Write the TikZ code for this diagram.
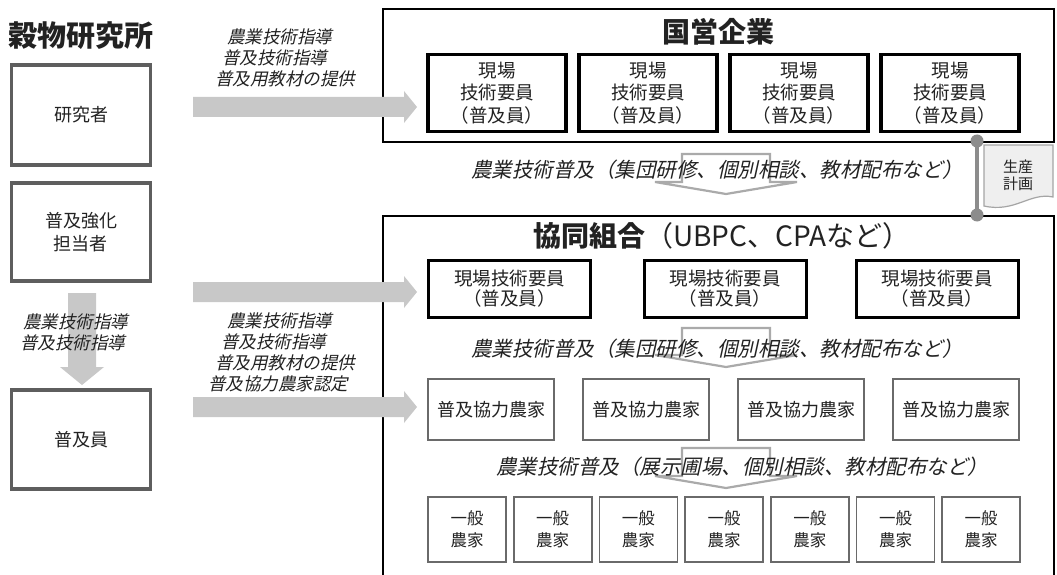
\documentclass[tikz,border=0pt]{standalone}
\usepackage{fontspec}
\setmainfont{Noto Sans CJK JP}
\newfontfamily\jpit{Noto Sans CJK JP}[FakeSlant=0.22]
\usetikzlibrary{calc}
\definecolor{txt}{HTML}{222222}
\definecolor{arrowgray}{HTML}{C8C8C8}
\definecolor{hollowgray}{HTML}{AAAAAA}
\definecolor{boxgray}{HTML}{5E5E5E}
\definecolor{lightbox}{HTML}{6A6A6A}
\definecolor{dotgray}{HTML}{8C8C8C}
\definecolor{docfill}{HTML}{EFEFEF}
\definecolor{docline}{HTML}{A5A5A5}
\tikzset{
  leftbox/.style={draw=boxgray, line width=3.5pt, minimum width=139pt, inner sep=0pt, align=center, text=txt, font=\fontsize{18}{23}\selectfont},
  fieldbox/.style={draw=black, line width=3.5pt, minimum width=138pt, minimum height=77pt, inner sep=0pt, align=center, text=txt, font=\fontsize{18.5}{22.5}\selectfont},
  coopbox/.style={draw=black, line width=3pt, minimum width=162pt, minimum height=57pt, inner sep=0pt, align=center, text=txt, font=\fontsize{18.5}{20.5}\selectfont},
  farmbox/.style={draw=lightbox, line width=1.8pt, minimum width=126pt, minimum height=61pt, inner sep=0pt, align=center, text=txt, font=\fontsize{18}{22}\selectfont},
  genbox/.style={draw=lightbox, line width=1.8pt, minimum width=78pt, minimum height=65pt, inner sep=0pt, align=center, text=txt, font=\fontsize{16.5}{22}\selectfont},
  outerbox/.style={draw=black, line width=2pt},
  itlabel/.style={inner sep=0pt, align=left, text=txt, font=\jpit\fontsize{17.5}{21}\selectfont},
  midlabel/.style={inner sep=0pt, text=txt, font=\jpit\fontsize{20.5}{24}\selectfont},
  hollow/.style={draw=hollowgray, line width=2.2pt, line join=miter},
}
% fat grey arrow from #1 (tail) to #2 (tip), horizontal
\newcommand{\fatarrowH}[2]{%
  \fill[arrowgray] ($(#1)+(0,-10)$) -- ($(#2)+(-13,-10)$) -- ($(#2)+(-13,-16)$) -- (#2)
    -- ($(#2)+(-13,16)$) -- ($(#2)+(-13,10)$) -- ($(#1)+(0,10)$) -- cycle;}
% hollow down arrow: #1 top centre, #2 tip
\newcommand{\hollowarrow}[2]{%
  \draw[hollow] ($(#1)+(-44,0)$) -- ($(#1)+(44,0)$) -- ($(#2)+(44,-12)$) -- ($(#2)+(71,-12)$) -- (#2)
    -- ($(#2)+(-71,-12)$) -- ($(#2)+(-44,-12)$) -- cycle;}
\begin{document}
\begin{tikzpicture}[x=1pt,y=-1pt]
\useasboundingbox (0,0) rectangle (1057,575);
\fill[white] (0,0) rectangle (1057,575);

% ---------- left column ----------
\node[inner sep=0pt, text=txt, font=\bfseries\fontsize{29}{32}\selectfont] (inst) at (81,36) {穀物研究所};
\node[leftbox, minimum height=100pt] (ken) at (81,115) {研究者};
\node[leftbox, minimum height=98pt] (kyoka) at (81,232) {普及強化\\担当者};
\node[leftbox, minimum height=99pt] (fukyuin) at (81,439.5) {普及員};

% down arrow
\coordinate (dTail) at (82,293);
\coordinate (dTip) at (82,385);
\fill[arrowgray] ($(dTail)+(-14,0)$) -- ($(dTip)+(-14,-18)$) -- ($(dTip)+(-22,-18)$) -- (dTip)
  -- ($(dTip)+(22,-18)$) -- ($(dTip)+(14,-18)$) -- ($(dTail)+(14,0)$) -- cycle;
\node[itlabel, anchor=north west] (lblL) at (20,314) {\hspace*{3pt}農業技術指導\\普及技術指導};

% ---------- state enterprise ----------
\draw[outerbox] (383,9) rectangle (1054,142);
\node[inner sep=0pt, text=txt, font=\bfseries\fontsize{28}{32}\selectfont] (kigyo) at (718,32) {国営企業};
\foreach \i/\x in {1/497,2/648,3/799,4/950}{
  \node[fieldbox] (gen\i) at (\x,93) {現場\\技術要員\\（普及員）};
}

% ---------- cooperative ----------
\draw[outerbox] (383,216) rectangle (1054,600);
\node[inner sep=0pt, text=txt, font=\fontsize{28}{32}\selectfont] (coop) at (722,236) {\textbf{協同組合}（UBPC、CPAなど）};
\node[coopbox] (cg1) at (509.5,288.5) {現場技術要員\\（普及員）};
\node[coopbox] (cg2) at (725,288.5) {現場技術要員\\（普及員）};
\node[coopbox] (cg3) at (937,288.5) {現場技術要員\\（普及員）};

\foreach \i/\x in {1/491,2/646,3/801,4/956}{
  \node[farmbox] (kf\i) at (\x,409.5) {普及協力農家};
}
\foreach \i in {1,...,7}{
  \pgfmathsetmacro{\gx}{467+85.7*(\i-1)}
  \node[genbox] (ip\i) at (\gx,529.5) {一般\\農家};
}

% ---------- hollow arrows and texts ----------
\coordinate (h1top) at (726,154); \coordinate (h1tip) at (726,194);
\coordinate (h2top) at (726,328); \coordinate (h2tip) at (726,367);
\coordinate (h3top) at (726,448); \coordinate (h3tip) at (726,488);
\hollowarrow{h1top}{h1tip}
\hollowarrow{h2top}{h2tip}
\hollowarrow{h3top}{h3tip}
\node[midlabel] (m1) at (717,170) {農業技術普及（集団研修、個別相談、教材配布など）};
\node[midlabel] (m2) at (717,349) {農業技術普及（集団研修、個別相談、教材配布など）};
\node[midlabel] (m3) at (742,467) {農業技術普及（展示圃場、個別相談、教材配布など）};

% ---------- fat arrows ----------
\coordinate (a1s) at (193,107); \coordinate (a1e) at (417,107);
\coordinate (a2s) at (193,292); \coordinate (a2e) at (417,292);
\coordinate (a3s) at (193,407); \coordinate (a3e) at (417,407);
\fatarrowH{a1s}{a1e}
\fatarrowH{a2s}{a2e}
\fatarrowH{a3s}{a3e}
\node[itlabel, anchor=north west] (lbl1) at (215,29) {\hspace*{12pt}農業技術指導\\\hspace*{7pt}普及技術指導\\普及用教材の提供};
\node[itlabel, anchor=north west] (lbl3) at (208,313) {\hspace*{19pt}農業技術指導\\\hspace*{13pt}普及技術指導\\\hspace*{7pt}普及用教材の提供\\普及協力農家認定};

% ---------- production plan ----------
\coordinate (dot1) at (977,141);
\coordinate (dot2) at (977,215);
\draw[dotgray, line width=4pt] (dot1) -- (dot2);
\fill[dotgray] (dot1) circle (6.5);
\fill[dotgray] (dot2) circle (6.5);
\draw[docline, fill=docfill, line width=1.2pt] (984,145) -- (1053,145) -- (1053,197)
  .. controls (1030,192) and (1015,213) .. (984,206) -- cycle;
\node[inner sep=0pt, align=center, text=txt, font=\fontsize{15}{17}\selectfont] (plan) at (1018,175) {生産\\計画};
\end{tikzpicture}
\end{document}
